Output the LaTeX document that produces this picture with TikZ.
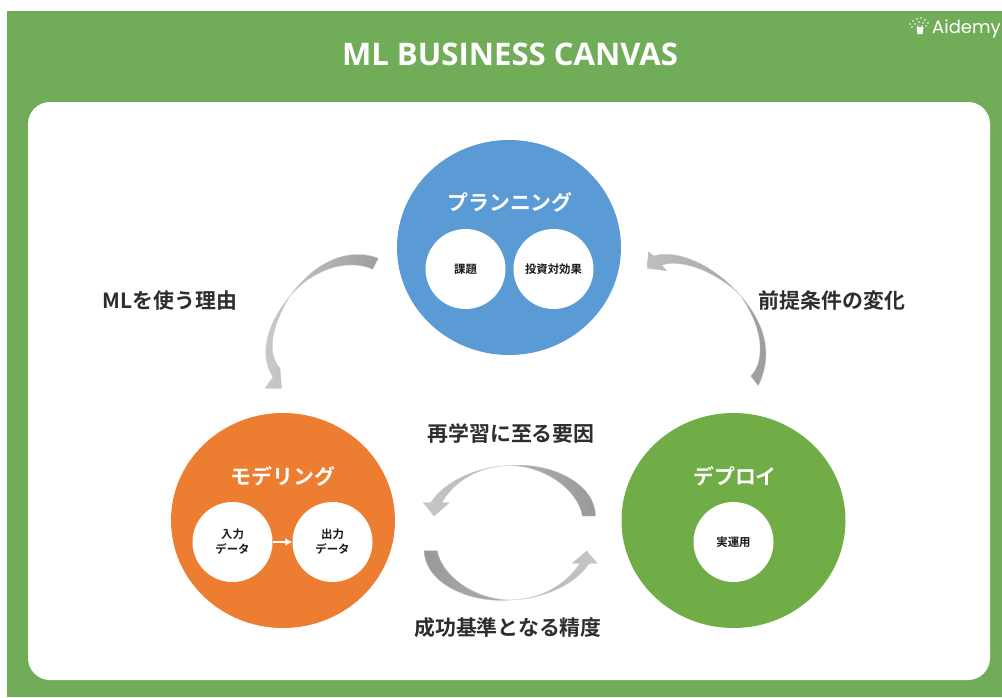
\documentclass[tikz,border=0pt]{standalone}
\usepackage{fontspec}
\usetikzlibrary{shapes.geometric,arrows.meta}
\setmainfont{Open Sans}
\newfontfamily\jp{Noto Sans CJK JP}[BoldFont={Noto Sans CJK JP Bold}]
\newfontfamily\logofont{Poppins}
\begin{document}
\begin{tikzpicture}[x=1pt,y=-1pt,
  bigc/.style={ellipse,minimum width=224pt,minimum height=215pt,inner sep=0pt},
  smallc/.style={circle,fill=white,minimum size=80pt,inner sep=0pt,font=\jp\bfseries\fontsize{11.4}{15}\selectfont,text=black!90,align=center},
  head/.style={text=white,font=\jp\bfseries\fontsize{20.9}{24}\selectfont},
  lab/.style={text=black!82,font=\jp\bfseries\fontsize{20.9}{24}\selectfont},
  blockarrow/.style={draw=black!22,line width=0.3pt,line join=round},
]
\useasboundingbox (0,0) rectangle (1002,697);
\fill[white] (0,0) rectangle (1002,697);
\fill[fill={rgb,255:red,113;green,173;blue,88}] (7,11) rectangle (1002,697);
\fill[white,rounded corners=22pt] (28,102) rectangle (990,680);
\node[text=white,font=\bfseries\fontsize{31.1}{36}\selectfont] (title) at (510,54) {ML BUSINESS CANVAS};
% logo
\foreach \a/\b in {910/24,913/21,917/19,921/18,925/20,928/23,912/27,915/24,919/22,923/23,926/26,918/26,922/26}
  \fill[white] (\a,\b) circle (0.9pt);
\fill[white] (916.5,27) -- (923.5,27) -- (922.5,34) -- (917.5,34) -- cycle;
\node[text=white,anchor=west,inner sep=0pt,font=\logofont\fontsize{18}{21}\selectfont] (logo) at (932,29) {Aidemy};
% circles
\node[bigc,fill={rgb,255:red,91;green,155;blue,213}] (plan) at (509,247.5) {};
\node[bigc,fill={rgb,255:red,237;green,125;blue,49}] (model) at (283,520.5) {};
\node[bigc,fill={rgb,255:red,112;green,173;blue,71}] (deploy) at (733.5,520.5) {};
\node[head] (planh) at (510,202) {プランニング};
\node[head] (modelh) at (283,476) {モデリング};
\node[head] (deployh) at (735,476) {デプロイ};
\node[smallc] (kadai) at (465.5,269) {課題};
\node[smallc] (roi) at (553.5,269) {投資対効果};
\node[smallc] (in) at (232.5,542) {入力\\データ};
\node[smallc] (out) at (332.5,542) {出力\\データ};
\node[smallc] (jitsu) at (733.5,542) {実運用};
\draw[white,line width=1.8pt,-{Latex[length=7pt,width=8pt]}] (in) -- (out);
% block arrows
\shade[blockarrow,left color=black!20,right color=black!38]
 (378.3,258.3) .. controls (358,250) and (322,252) .. (290,296)
 .. controls (272,318) and (256,350) .. (273,377)
 -- (265,388.3) -- (281.7,388.3) -- (280,368.3)
 .. controls (268,355) and (269,330) .. (290,296)
 .. controls (310,272) and (345,257) .. (372.7,269.3) -- cycle;
\shade[blockarrow,left color=black!25,right color=black!40]
 (648.3,251.7) -- (654,256)
 .. controls (675,249) and (712,263) .. (740,295)
 .. controls (755,312) and (778,345) .. (758.3,385.7)
 -- (750.7,376)
 .. controls (762,365) and (768,335) .. (740,295)
 .. controls (720,275) and (685,258) .. (661.7,265)
 -- (666.7,270.7) -- (647.3,268.3) -- cycle;
\shade[blockarrow,left color=black!22,right color=black!40]
 (595.5,516) -- (582.3,516)
 .. controls (578,490) and (545,466) .. (510,465.5)
 .. controls (480,466) and (455,480) .. (441.7,502.7)
 -- (449.3,502.7) -- (434,516) -- (423.3,502.7) -- (430.7,502.7)
 .. controls (445,480) and (480,466) .. (510,465.5)
 .. controls (552,462) and (595.5,484) .. (595.5,516) -- cycle;
\shade[blockarrow,left color=black!40,right color=black!22]
 (424.3,550.7) -- (437.3,550.7)
 .. controls (441.8,576) and (474.8,599.5) .. (509.8,600)
 .. controls (539.8,599.5) and (564.8,586) .. (580,563.3)
 -- (572.3,563.3) -- (586.7,551) -- (597.3,563.3) -- (589.1,563.3)
 .. controls (574.8,586) and (539.8,599.5) .. (509.8,600)
 .. controls (467.8,603.5) and (424.3,582) .. (424.3,550.7) -- cycle;
% labels
\node[lab] (l1) at (170,301) {MLを使う理由};
\node[lab] (l2) at (832,301) {前提条件の変化};
\node[lab] (l3) at (511,434) {再学習に至る要因};
\node[lab] (l4) at (508,628) {成功基準となる精度};
\end{tikzpicture}
\end{document}
